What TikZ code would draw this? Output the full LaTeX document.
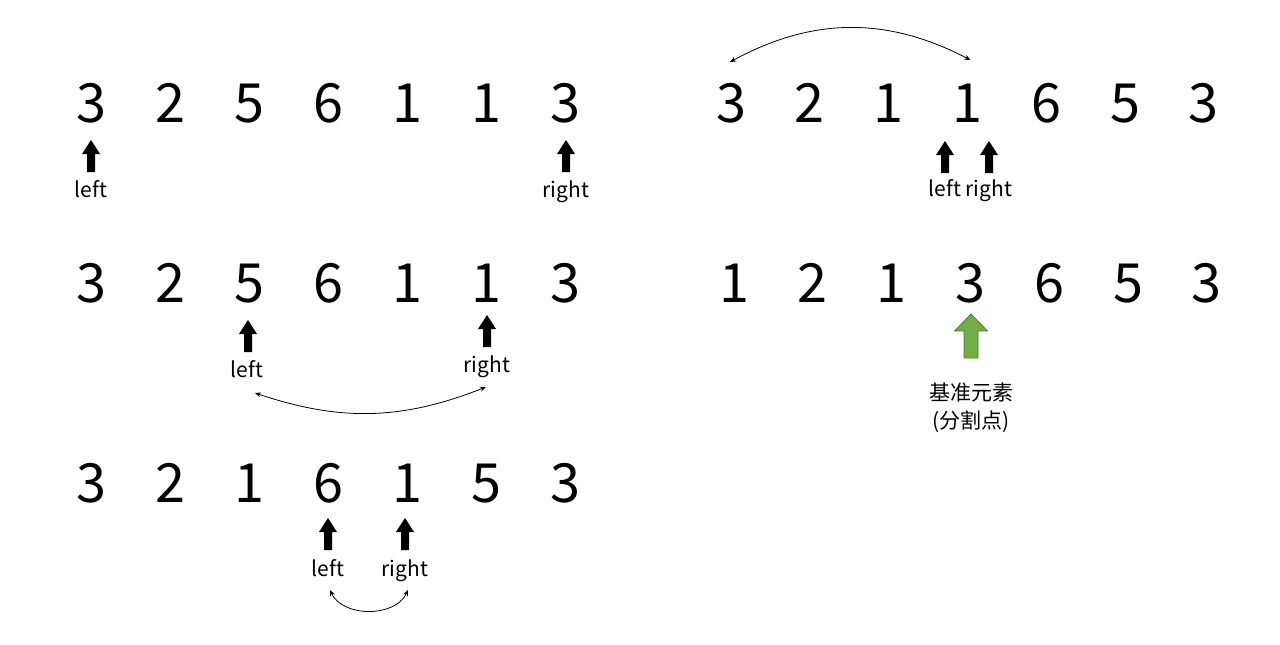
\documentclass[tikz,border=0pt]{standalone}
\usepackage{fontspec}
\setmainfont{Noto Sans CJK SC}
\usetikzlibrary{arrows.meta}
\definecolor{grfill}{HTML}{70AD47}
\definecolor{grline}{HTML}{507E32}
\begin{document}
\begin{tikzpicture}[x=1pt,y=1pt,
  num/.style={anchor=base, font=\fontsize{54}{54}\selectfont, inner sep=0pt},
  lbl/.style={anchor=base, font=\fontsize{21}{24}\selectfont, inner sep=0pt},
  swap/.style={{Stealth[length=6pt,width=5pt]}-{Stealth[length=6pt,width=5pt]}, line width=0.8pt, black},
  uparr/.pic={\fill[black] (0,0) -- (9,-14) -- (4,-14) -- (4,-32) -- (-4,-32) -- (-4,-14) -- (-9,-14) -- cycle;},
  greenarr/.pic={\filldraw[fill=grfill, draw=grline, line width=0.8pt] (0,0) -- (16.5,-17) -- (7,-17) -- (7,-44) -- (-7,-44) -- (-7,-17) -- (-16.5,-17) -- cycle;}
]
\useasboundingbox (0,0) rectangle (1280,-645);

% left column, row 1
\foreach \d [count=\i] in {3,2,5,6,1,1,3}
  \node[num] (a\i) at ({91+79*(\i-1)},-122) {\d};
\pic at (91,-140) {uparr};
\pic at (566,-140) {uparr};
\node[lbl] (aL) at (91,-197) {left};
\node[lbl] (aR) at (566,-197) {right};

% left column, row 2
\foreach \d [count=\i] in {3,2,5,6,1,1,3}
  \node[num] (b\i) at ({91+79*(\i-1)},-302) {\d};
\pic at (248,-320) {uparr};
\pic at (487,-315) {uparr};
\node[lbl] (bL) at (247,-377) {left};
\node[lbl] (bR) at (487,-372) {right};
\draw[swap] ([xshift=8pt,yshift=-16pt]bL.base) to[bend right=20] ([xshift=-1pt,yshift=-15pt]bR.base);

% left column, row 3
\foreach \d [count=\i] in {3,2,1,6,1,5,3}
  \node[num] (c\i) at ({91+79*(\i-1)},-502) {\d};
\pic at (328,-518) {uparr};
\pic at (405,-518) {uparr};
\node[lbl] (cL) at (328,-576) {left};
\node[lbl] (cR) at (405,-576) {right};
\draw[swap] ([xshift=2pt,yshift=-14pt]cL.base) to[bend right=65] ([xshift=3pt,yshift=-14pt]cR.base);

% right column, row 1
\foreach \d [count=\i] in {3,2,1,1,6,5,3}
  \node[num] (d\i) at ({731+78.8*(\i-1)},-122) {\d};
\pic at (945,-141) {uparr};
\pic at (989,-141) {uparr};
\node[lbl] (dL) at (945,-196) {left};
\node[lbl] (dR) at (989,-196) {right};
\draw[swap] ([xshift=-1pt,yshift=60pt]d1.base) to[bend left=28] ([xshift=3pt,yshift=62pt]d4.base);

% right column, row 2
\foreach \d [count=\i] in {1,2,1,3,6,5,3}
  \node[num] (e\i) at ({734+78.8*(\i-1)},-302) {\d};
\pic at (971,-314) {greenarr};
\node[lbl] (eA) at (971,-400) {基准元素};
\node[lbl] (eB) at (971,-428) {(分割点)};
\end{tikzpicture}
\end{document}
